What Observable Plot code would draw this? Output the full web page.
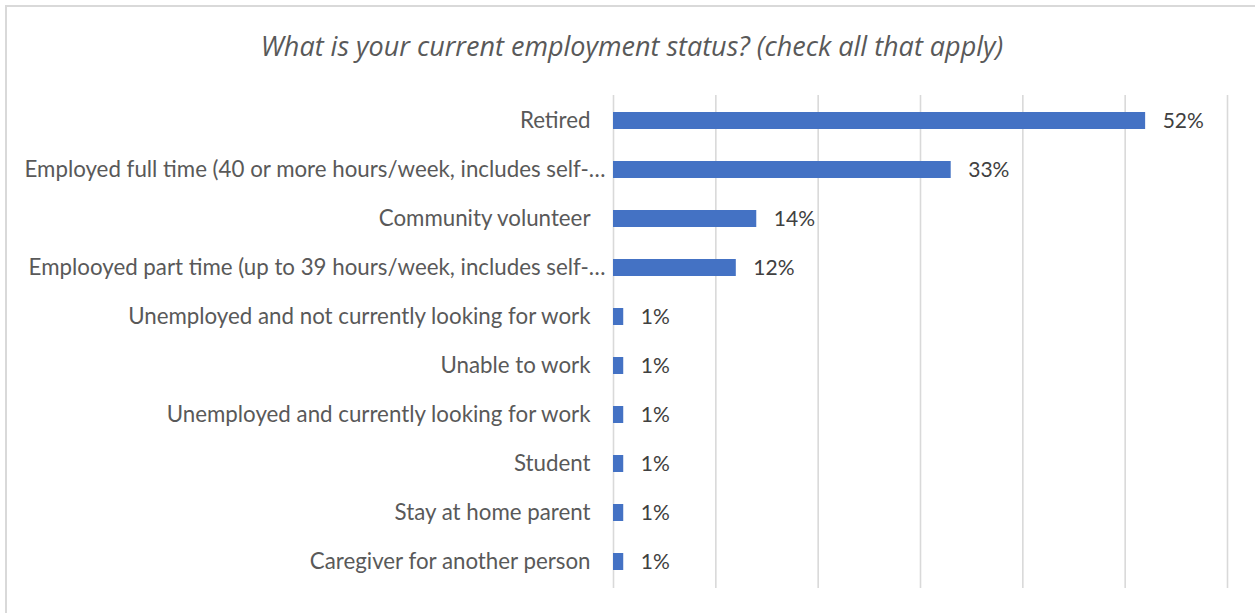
<!DOCTYPE html>
<html>
<head>
<meta charset="utf-8">
<script src="https://cdn.jsdelivr.net/npm/d3@7"></script>
<script src="https://cdn.jsdelivr.net/npm/@observablehq/plot@0.6"></script>
<style>
  body { margin: 0; background: #fff; }
  #wrap { position: relative; width: 1255px; height: 613px; overflow: hidden; font-family: Lato, sans-serif; }
  #frame { position: absolute; left: 5px; top: 5px; width: 1300px; height: 700px; border-left: 2px solid #d9d9d9; border-top: 2px solid #d9d9d9; box-sizing: border-box; }
  #title { position: absolute; left: 0; top: 0; width: 1264px; height: 60px; line-height: 92px; text-align: center; font-family: "Open Sans", sans-serif; font-style: italic; font-size: 27px; color: #595959; }
  #chart { position: absolute; left: 0; top: 60px; }
</style>
</head>
<body>
<div id="wrap">
  <div id="frame"></div>
  <div id="title">What is your current employment status? (check all that apply)</div>
  <div id="chart"></div>
</div>
<script>
const categories = [
  "Retired",
  "Employed full time (40 or more hours/week, includes self-…",
  "Community volunteer",
  "Emplooyed part time (up to 39 hours/week, includes self-…",
  "Unemployed and not currently looking for work",
  "Unable to work",
  "Unemployed and currently looking for work",
  "Student",
  "Stay at home parent",
  "Caregiver for another person"
];
const values = [52, 33, 14, 12, 1, 1, 1, 1, 1, 1];
const gridTicks = [0, 10, 20, 30, 40, 50, 60];
const truncated = [categories[1], categories[3]];
const plain = categories.filter(c => !truncated.includes(c));

const data = categories.map((c, i) => ({category: c, value: values[i]}));

const chart = Plot.plot({
  width: 1255,
  height: 553,
  marginLeft: 613,
  marginRight: 28,
  marginTop: 35,
  marginBottom: 25,
  style: {fontFamily: "Lato, sans-serif", background: "transparent"},
  x: {domain: [0, 60], axis: null},
  y: {domain: categories, paddingInner: 0.65, paddingOuter: 0.325, axis: null},
  marks: [
    Plot.gridX(gridTicks, {stroke: "#d9d9d9", strokeOpacity: 1, strokeWidth: 1.6}),
    Plot.barX(data, {x: "value", y: "category", fill: "#4472C4"}),
    Plot.text(data, {x: "value", y: "category", text: d => d.value + "%", textAnchor: "start", dx: 17, fontSize: 21, fill: "#404040"}),
    Plot.axisY(plain, {tickSize: 0, tickPadding: 23, fontSize: 22.3, color: "#595959", label: null}),
    Plot.axisY(truncated, {tickSize: 0, tickPadding: 8, fontSize: 22.3, color: "#595959", label: null})
  ]
});
document.getElementById("chart").appendChild(chart);
</script>
</body>
</html>
